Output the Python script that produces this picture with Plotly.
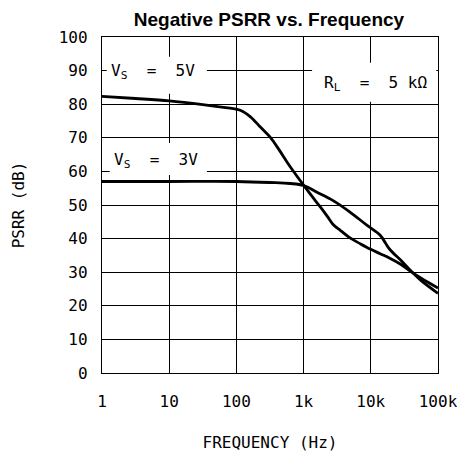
import plotly.graph_objects as go

# Data
freq_5v = [1, 3.16, 10, 31.6, 80.7, 114, 160, 225, 318, 423, 562, 750, 1000, 1320, 1760,
           2240, 2750, 3550, 4900, 6920, 9770, 13800, 19500, 28200, 40700, 56200, 100000]
psrr_5v = [82.3, 81.7, 81.0, 79.9, 78.8, 78.2, 76.3, 73.3, 70.2, 66.7, 62.9, 59.3, 55.9, 52.7, 49.5,
           46.7, 44.2, 42.4, 40.2, 38.5, 36.9, 35.5, 34.1, 32.3, 30.0, 28.2, 25.3]

freq_3v = [1, 10, 100, 316, 631, 1000, 1580, 2750, 4900, 8710, 13800, 16600, 19500, 28200,
           40700, 56200, 100000]
psrr_3v = [57.0, 57.0, 57.0, 56.7, 56.4, 55.8, 53.8, 51.3, 47.9, 44.0, 41.0, 38.6, 36.6, 33.5,
           30.1, 27.5, 23.7]

x_tickvals = [1, 10, 100, 1000, 10000, 100000]
x_ticktext = ["1", "10", "100", "1k", "10k", "100k"]

MONO = "DejaVu Sans Mono"

fig = go.Figure()
for fx, fy in [(freq_5v, psrr_5v), (freq_3v, psrr_3v)]:
    fig.add_trace(go.Scatter(x=fx, y=fy, mode="lines",
                             line=dict(color="black", width=2.8, shape="spline", smoothing=1.0),
                             showlegend=False, hoverinfo="skip"))

W, H = 457, 452
L, R, T, B = 102.3, 437.7, 37.3, 372.7
def px(x):
    return (x - L) / (R - L)
def py(y):
    return (B - y) / (B - T)

boxes = [(107, 57, 207, 94), (110, 143, 207, 175), (312, 63, 436, 102)]
for x0, y0, x1, y1 in boxes:
    fig.add_shape(type="rect", xref="paper", yref="paper",
                  x0=px(x0), x1=px(x1), y0=py(y1), y1=py(y0),
                  line=dict(width=0), fillcolor="white", layer="above")

labels = [
    ("V<sub>S</sub>\u00a0 =\u00a0 5V", 153.4, 72),
    ("V<sub>S</sub>\u00a0 =\u00a0 3V", 155.8, 161),
    ("R<sub>L</sub>\u00a0 =\u00a0 5\u2009k\u03a9", 375, 84),
]
for txt, x, y in labels:
    fig.add_annotation(text=txt, xref="paper", yref="paper", x=px(x), y=py(y),
                       xanchor="center", yanchor="middle", showarrow=False,
                       font=dict(family=MONO, size=16, color="black"))

fig.update_layout(
    width=W, height=H,
    margin=dict(l=L, r=W - R, t=T, b=H - B, autoexpand=False),
    paper_bgcolor="white", plot_bgcolor="white",
    title=dict(text="<b>Negative PSRR vs. Frequency</b>", x=269 / W, xanchor="center",
               y=1 - 19 / H, yanchor="middle",
               font=dict(family="Liberation Sans", size=19, color="black")),
    font=dict(family=MONO, size=16, color="black"),
)
fig.update_xaxes(type="log", range=[0, 5], tickvals=x_tickvals, ticktext=x_ticktext,
                 showgrid=True, gridcolor="black", gridwidth=1.2,
                 showline=True, linecolor="black", linewidth=1.4, mirror=True,
                 ticks="", ticklabelstandoff=14, ticklabeloverflow="allow", automargin=False,
                 title=dict(text="FREQUENCY (Hz)", standoff=36, font=dict(family=MONO, size=16)),
                 tickfont=dict(family=MONO, size=16), zeroline=False)
fig.update_yaxes(range=[0, 100], dtick=10,
                 showgrid=True, gridcolor="black", gridwidth=1.2,
                 showline=True, linecolor="black", linewidth=1.4, mirror=True,
                 ticks="", ticklabelstandoff=10, automargin=False,
                 title=dict(text="PSRR (dB)", standoff=30, font=dict(family=MONO, size=16)),
                 tickfont=dict(family=MONO, size=16), zeroline=False)

fig.write_html("out.html", config={"displayModeBar": False},
               post_script="document.body.style.margin='0';document.body.style.padding='0';")
